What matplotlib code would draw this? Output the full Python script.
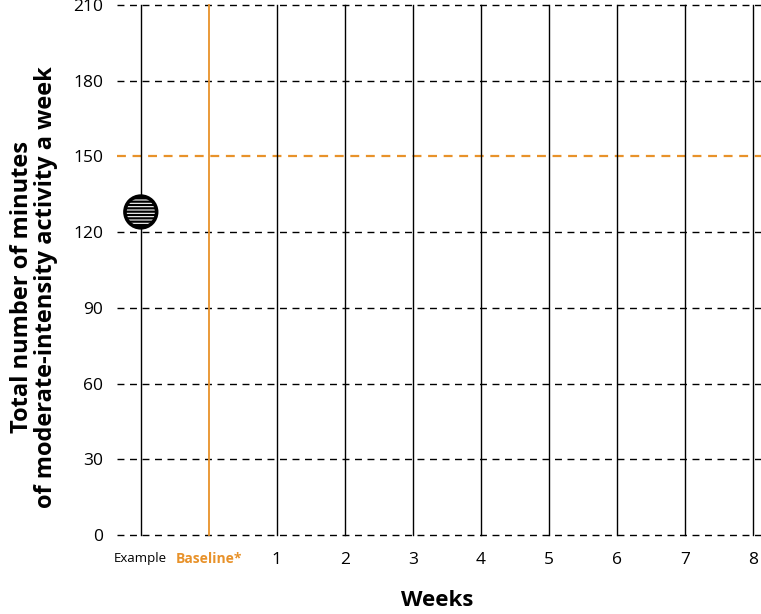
import matplotlib
matplotlib.use("Agg")
import matplotlib.pyplot as plt

plt.rcParams['font.family'] = ['Open Sans', 'DejaVu Sans']
plt.rcParams['hatch.linewidth'] = 1.6

x_labels = ["Example", "Baseline*", "1", "2", "3", "4", "5", "6", "7", "8"]
y_ticks = [0, 30, 60, 90, 120, 150, 180, 210]
target = 150
example_x = [0]
example_y = [128]
orange = "#E8922A"

fig = plt.figure(figsize=(7.61, 6.14), dpi=100)
ax = fig.add_axes([117/761, 79/614, 644/761, 530/614])
ax.set_xlim(-0.35, 9.12)
ax.set_ylim(0, 210)

for y in y_ticks:
    if y == target:
        continue
    ax.axhline(y, color="black", lw=1, ls=(0, (5, 4)), clip_on=False, zorder=1)
ax.axhline(target, color=orange, lw=1.6, ls=(0, (4, 3)), clip_on=False, zorder=2)

xs = list(range(len(x_labels)))
for i in xs:
    ax.plot([i, i], [0, 210], color=(orange if i == 1 else "black"),
            lw=(1.3 if i == 1 else 1.0), clip_on=False, zorder=2)

ax.scatter(example_x, example_y, s=520, marker='o', facecolor='white',
           edgecolor='black', hatch='-----', linewidth=2.6, zorder=5, clip_on=False)

for s in ax.spines.values():
    s.set_visible(False)

ax.set_yticks(y_ticks)
ax.set_yticklabels([str(v) for v in y_ticks], fontsize=12.5)
ax.tick_params(axis='y', length=0, pad=10)
ax.set_xticks(xs)
ax.set_xticklabels(x_labels)
ax.tick_params(axis='x', length=0, pad=12)
for i, lab in enumerate(ax.get_xticklabels()):
    if i == 0:
        lab.set_fontsize(9.5)
    elif i == 1:
        lab.set_fontsize(10)
        lab.set_fontweight('bold')
        lab.set_color(orange)
    else:
        lab.set_fontsize(12.5)

fig.text(437/761, 14/614, "Weeks", ha='center', va='center',
         fontsize=16, fontweight='bold')
fig.text(34/761, (614 - 287)/614, "Total number of minutes\nof moderate-intensity activity a week",
         rotation=90, ha='center', va='center', fontsize=17, fontweight='bold',
         linespacing=0.95)

fig.savefig("out.png", dpi=100)
